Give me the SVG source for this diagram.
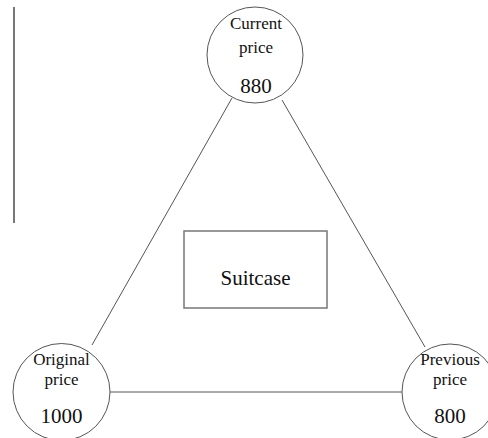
<svg xmlns="http://www.w3.org/2000/svg" width="488" height="438" viewBox="0 0 488 438">
<style>
.n circle{fill:#fff;stroke:#555;stroke-width:1}
.t{font-family:"Liberation Serif","Times New Roman",serif;fill:#111;text-anchor:middle}
.s{font-size:17px}
.b{font-size:21px}
#connectors line{stroke:#555;stroke-width:1}
</style>
<rect width="488" height="438" fill="#fff"/>
<line x1="14" y1="7" x2="14" y2="223" stroke="#777" stroke-width="2"/>
<g id="connectors">
<line x1="232" y1="98" x2="92" y2="345"/>
<line x1="282" y1="100" x2="425" y2="347"/>
<line x1="110" y1="392" x2="402" y2="392"/>
</g>
<g id="suitcase">
<rect x="184" y="231" width="143" height="77" fill="#fff" stroke="#777" stroke-width="1.5"/>
<text class="t b" x="255.5" y="285">Suitcase</text>
</g>
<g id="current" class="n">
<circle cx="255" cy="55" r="48"/>
<text class="t s" x="256" y="29">Current</text>
<text class="t s" x="256" y="53">price</text>
<text class="t b" x="256" y="93">880</text>
</g>
<g id="original" class="n">
<circle cx="61.5" cy="392" r="48.5"/>
<text class="t s" x="61.5" y="365">Original</text>
<text class="t s" x="61.5" y="385">price</text>
<text class="t b" x="61.5" y="423">1000</text>
</g>
<g id="previous" class="n">
<circle cx="450" cy="392" r="48"/>
<text class="t s" x="450" y="365">Previous</text>
<text class="t s" x="450" y="385">price</text>
<text class="t b" x="450" y="423">800</text>
</g>
</svg>
